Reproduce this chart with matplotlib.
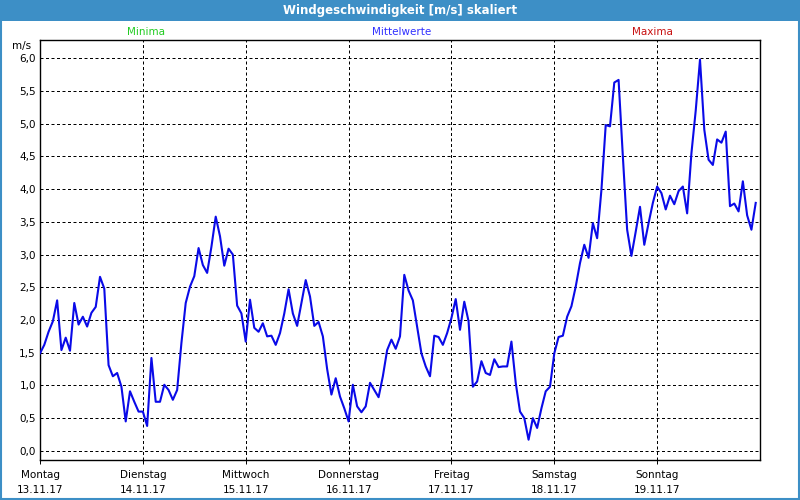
import matplotlib
matplotlib.use("Agg")
import matplotlib.pyplot as plt
from matplotlib.patches import Rectangle
import numpy as np

# hourly mean wind speed, Mon 13.11.17 00:00 .. Sun 19.11.17 23:00
wind = [
    1.49, 1.62, 1.82, 1.98, 2.30, 1.54, 1.73, 1.53, 2.26, 1.93, 2.05, 1.90,
    2.11, 2.20, 2.66, 2.48, 1.31, 1.14, 1.19, 0.98, 0.45, 0.91, 0.75, 0.60,
    0.60, 0.38, 1.42, 0.75, 0.75, 1.01, 0.93, 0.78, 0.93, 1.65, 2.26, 2.51,
    2.67, 3.10, 2.84, 2.72, 3.12, 3.58, 3.28, 2.83, 3.09, 3.00, 2.22, 2.10,
    1.67, 2.31, 1.88, 1.82, 1.95, 1.75, 1.76, 1.62, 1.80, 2.10, 2.47, 2.10,
    1.91, 2.26, 2.61, 2.36, 1.91, 1.97, 1.75, 1.25, 0.86, 1.11, 0.83, 0.65,
    0.45, 1.01, 0.68, 0.59, 0.68, 1.04, 0.93, 0.82, 1.14, 1.54, 1.70, 1.56,
    1.75, 2.69, 2.45, 2.30, 1.90, 1.49, 1.29, 1.14, 1.76, 1.74, 1.62, 1.80,
    2.03, 2.32, 1.85, 2.28, 1.98, 0.98, 1.06, 1.37, 1.19, 1.16, 1.40, 1.28,
    1.29, 1.29, 1.67, 1.04, 0.60, 0.50, 0.17, 0.50, 0.35, 0.65, 0.91, 0.98,
    1.49, 1.74, 1.76, 2.05, 2.21, 2.51, 2.87, 3.15, 2.95, 3.48, 3.25, 3.99,
    4.98, 4.96, 5.63, 5.67, 4.50, 3.38, 2.98, 3.35, 3.73, 3.15, 3.48, 3.79,
    4.04, 3.94, 3.69, 3.90, 3.77, 3.97, 4.04, 3.63, 4.55, 5.20, 5.98, 4.91,
    4.45, 4.37, 4.76, 4.71, 4.88, 3.74, 3.78, 3.66, 4.12, 3.60, 3.38, 3.79,
]
days = ["Montag", "Dienstag", "Mittwoch", "Donnerstag", "Freitag", "Samstag", "Sonntag"]
dates = ["13.11.17", "14.11.17", "15.11.17", "16.11.17", "17.11.17", "18.11.17", "19.11.17"]
y_ticks = np.arange(0, 6.01, 0.5)

BAR = "#3d8fc6"
LINE = "#0a0ae8"

plt.rcParams["font.family"] = ["DejaVu Sans"]

fig = plt.figure(figsize=(8, 5), dpi=100)
fig.patch.set_facecolor("white")

# title bar and frame
fig.patches.append(Rectangle((0, 1 - 21 / 500), 1, 21 / 500, transform=fig.transFigure,
                             facecolor=BAR, edgecolor="none", zorder=0))
fig.patches.append(Rectangle((0.001, 0.002), 0.998, 0.996, transform=fig.transFigure,
                             facecolor="none", edgecolor=BAR, lw=1.5, zorder=5))
fig.text(0.5, 1 - 10.5 / 500, "Windgeschwindigkeit [m/s] skaliert", color="white",
         fontsize=8.5, fontweight="bold", ha="center", va="center",
         family=["Liberation Sans Narrow", "DejaVu Sans"])

fig.text(146 / 800, 1 - 32 / 500, "Minima", color="#22cc22", fontsize=7.5, ha="center", va="center")
fig.text(402 / 800, 1 - 32 / 500, "Mittelwerte", color="#3030ff", fontsize=7.5, ha="center", va="center")
fig.text(652 / 800, 1 - 32 / 500, "Maxima", color="#c81010", fontsize=7.5, ha="center", va="center")
fig.text(22 / 800, 1 - 46 / 500, "m/s", fontsize=7.5, ha="center", va="center")

ax = fig.add_axes([40 / 800, 40 / 500, 720 / 800, 420 / 500])
x = np.arange(len(wind)) / 24.0
ax.plot(x, wind, color=LINE, lw=1.5, zorder=3)

ax.set_xlim(0, 7)
ax.set_ylim(-0.14, 6.28)

ax.set_yticks(y_ticks)
ax.set_yticklabels([f"{v:.1f}".replace(".", ",") for v in y_ticks], fontsize=7.5)
ax.set_xticks(range(7))
ax.set_xticklabels([f"{d}\n{t}" for d, t in zip(days, dates)], fontsize=7.5, linespacing=1.6)
ax.tick_params(axis="y", length=0, pad=3)
ax.tick_params(axis="x", length=3, width=0.7, pad=4)

for v in y_ticks:
    ax.axhline(v, color="black", lw=0.72, ls=(0, (3, 2.5)), zorder=1)
for d in range(1, 7):
    ax.axvline(d, color="black", lw=0.72, ls=(0, (3, 2.5)), zorder=1)

for s in ax.spines.values():
    s.set_linewidth(1.0)

fig.savefig("out.png", dpi=100)
